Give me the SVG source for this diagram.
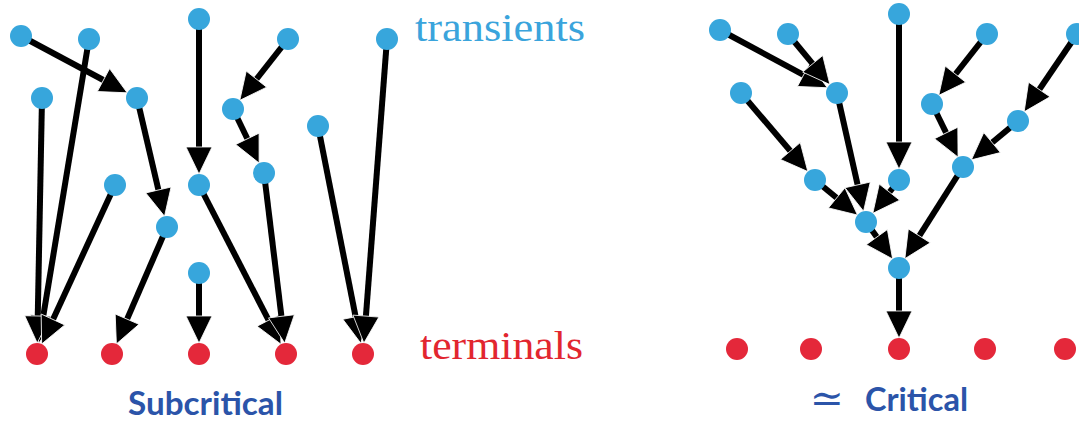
<svg xmlns="http://www.w3.org/2000/svg" width="1079" height="421" viewBox="0 0 1079 421">
  <style>
    .edge { stroke: #000; stroke-width: 6; fill: none; marker-end: url(#head); }
    .tr { fill: #37a6dc; }
    .tm { fill: #e4283a; }
    .lbl { font-family: "Liberation Serif", "DejaVu Serif", serif; font-size: 39px; }
    .title { font-family: Lato, "Open Sans", "Liberation Sans", sans-serif; font-weight: bold; font-size: 32px; fill: #2b54a9; }
  </style>
  <defs>
    <!-- arrowhead: base sits just behind the line end, tip 24px past it -->
    <marker id="head" markerUnits="userSpaceOnUse" markerWidth="40" markerHeight="40" refX="3" refY="0" orient="auto" overflow="visible">
      <path d="M0,-13 L27,0 L0,13 Z" fill="#000" stroke="#fff" stroke-width="0.8"/>
    </marker>
  </defs>

  <!-- connectors -->
  <g id="connectors">
    <!-- subcritical forest -->
    <line class="edge" x1="21" y1="36" x2="106.1" y2="81.5"/>
    <line class="edge" x1="89" y1="39" x2="42.7" y2="319.5"/>
    <line class="edge" x1="42" y1="98" x2="37.7" y2="319"/>
    <line class="edge" x1="115" y1="185" x2="51.7" y2="322.2"/>
    <line class="edge" x1="137" y1="98" x2="159.1" y2="192.9"/>
    <line class="edge" x1="167" y1="227" x2="125.9" y2="321.9"/>
    <line class="edge" x1="199" y1="19" x2="199" y2="150"/>
    <line class="edge" x1="199" y1="185" x2="270" y2="322.9"/>
    <line class="edge" x1="288" y1="39" x2="254.6" y2="81.5"/>
    <line class="edge" x1="233" y1="109" x2="248.7" y2="141.5"/>
    <line class="edge" x1="264" y1="173" x2="281.8" y2="319.3"/>
    <line class="edge" x1="199" y1="273" x2="199" y2="319"/>
    <line class="edge" x1="318" y1="126" x2="356.2" y2="319.7"/>
    <line class="edge" x1="387" y1="39" x2="365.7" y2="319.1"/>
    <!-- critical tree -->
    <line class="edge" x1="720" y1="30" x2="806.2" y2="76.4"/>
    <line class="edge" x1="788" y1="34" x2="814.6" y2="66.1"/>
    <line class="edge" x1="741" y1="93" x2="792.3" y2="153.3"/>
    <line class="edge" x1="837" y1="93" x2="858.3" y2="187.8"/>
    <line class="edge" x1="899" y1="14" x2="899" y2="145"/>
    <line class="edge" x1="815" y1="180" x2="839" y2="199.8"/>
    <line class="edge" x1="899" y1="180" x2="887.6" y2="194.5"/>
    <line class="edge" x1="987" y1="34" x2="953.6" y2="76.5"/>
    <line class="edge" x1="932" y1="104" x2="947.5" y2="135.6"/>
    <line class="edge" x1="1077" y1="34" x2="1037.6" y2="92"/>
    <line class="edge" x1="1018" y1="121" x2="989.8" y2="144.5"/>
    <line class="edge" x1="866" y1="222" x2="878.6" y2="239.5"/>
    <line class="edge" x1="963" y1="167" x2="917.7" y2="238.4"/>
    <line class="edge" x1="899" y1="268" x2="899" y2="314"/>
  </g>

  <!-- subcritical: transient nodes -->
  <g id="sA"><circle class="tr" cx="21" cy="36" r="11"/></g>
  <g id="sB"><circle class="tr" cx="89" cy="39" r="11"/></g>
  <g id="sC"><circle class="tr" cx="199" cy="19" r="11"/></g>
  <g id="sD"><circle class="tr" cx="288" cy="39" r="11"/></g>
  <g id="sE"><circle class="tr" cx="387" cy="39" r="11"/></g>
  <g id="sF"><circle class="tr" cx="42" cy="98" r="11"/></g>
  <g id="sG"><circle class="tr" cx="137" cy="98" r="11"/></g>
  <g id="sH"><circle class="tr" cx="233" cy="109" r="11"/></g>
  <g id="sI"><circle class="tr" cx="318" cy="126" r="11"/></g>
  <g id="sJ"><circle class="tr" cx="115" cy="185" r="11"/></g>
  <g id="sK"><circle class="tr" cx="199" cy="185" r="11"/></g>
  <g id="sL"><circle class="tr" cx="264" cy="173" r="11"/></g>
  <g id="sM"><circle class="tr" cx="167" cy="227" r="11"/></g>
  <g id="sN"><circle class="tr" cx="199" cy="273" r="11"/></g>
  <!-- subcritical: terminal nodes -->
  <g id="sT1"><circle class="tm" cx="37" cy="354" r="11"/></g>
  <g id="sT2"><circle class="tm" cx="112" cy="354" r="11"/></g>
  <g id="sT3"><circle class="tm" cx="199" cy="354" r="11"/></g>
  <g id="sT4"><circle class="tm" cx="286" cy="354" r="11"/></g>
  <g id="sT5"><circle class="tm" cx="363" cy="354" r="11"/></g>

  <!-- critical: transient nodes -->
  <g id="ca"><circle class="tr" cx="720" cy="30" r="11"/></g>
  <g id="cb"><circle class="tr" cx="788" cy="34" r="11"/></g>
  <g id="cc"><circle class="tr" cx="899" cy="14" r="11"/></g>
  <g id="cd"><circle class="tr" cx="987" cy="34" r="11"/></g>
  <g id="ce"><circle class="tr" cx="1077" cy="34" r="11"/></g>
  <g id="cf"><circle class="tr" cx="741" cy="93" r="11"/></g>
  <g id="cg"><circle class="tr" cx="837" cy="93" r="11"/></g>
  <g id="ch"><circle class="tr" cx="932" cy="104" r="11"/></g>
  <g id="ci"><circle class="tr" cx="1018" cy="121" r="11"/></g>
  <g id="cj"><circle class="tr" cx="815" cy="180" r="11"/></g>
  <g id="ck"><circle class="tr" cx="899" cy="180" r="11"/></g>
  <g id="cl"><circle class="tr" cx="963" cy="167" r="11"/></g>
  <g id="cm"><circle class="tr" cx="866" cy="222" r="11"/></g>
  <g id="cn"><circle class="tr" cx="899" cy="268" r="11"/></g>
  <!-- critical: terminal nodes -->
  <g id="cT1"><circle class="tm" cx="737" cy="349" r="11"/></g>
  <g id="cT2"><circle class="tm" cx="811" cy="349" r="11"/></g>
  <g id="cT3"><circle class="tm" cx="899" cy="349" r="11"/></g>
  <g id="cT4"><circle class="tm" cx="985" cy="349" r="11"/></g>
  <g id="cT5"><circle class="tm" cx="1065" cy="349" r="11"/></g>

  <!-- labels -->
  <text class="lbl" x="415" y="41" fill="#3aa4dc" textLength="170" lengthAdjust="spacingAndGlyphs">transients</text>
  <text class="lbl" x="420" y="359" fill="#e2262f" textLength="163" lengthAdjust="spacingAndGlyphs">terminals</text>
  <text class="title" x="128" y="415" textLength="155" lengthAdjust="spacingAndGlyphs">Subcritical</text>
  <text x="810" y="412" font-family="'DejaVu Serif', serif" font-size="40" fill="#2b54a9" textLength="34" lengthAdjust="spacingAndGlyphs">≃</text>
  <text class="title" x="865" y="411" textLength="103" lengthAdjust="spacingAndGlyphs">Critical</text>
</svg>
